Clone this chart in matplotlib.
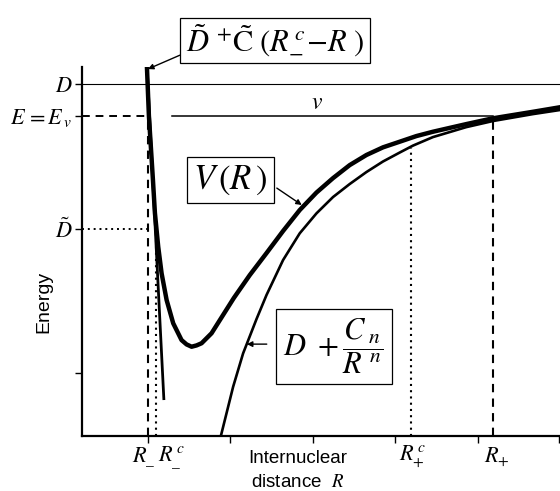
import matplotlib.pyplot as plt

plt.rcParams['mathtext.fontset'] = 'stix'
plt.rcParams['font.family'] = ['Liberation Sans', 'DejaVu Sans']

# potential curve V(R) (arbitrary units)
v_r = [0.788, 0.812, 0.861, 0.885, 0.925, 0.966, 1.027, 1.107, 1.208, 1.269,
       1.330, 1.390, 1.451, 1.572, 1.697, 1.842, 2.036, 2.239, 2.440, 2.642,
       2.845, 3.046, 3.248, 3.451, 3.652, 3.855, 4.057, 4.258, 4.663, 4.985,
       5.470, 5.794]
v_e = [3.118, 2.779, 2.336, 2.107, 1.874, 1.690, 1.505, 1.344, 1.228, 1.198,
       1.182, 1.191, 1.206, 1.275, 1.388, 1.519, 1.678, 1.830, 1.983, 2.128,
       2.249, 2.349, 2.439, 2.509, 2.562, 2.601, 2.640, 2.670, 2.723, 2.763,
       2.808, 2.839]

# long range form D + Cn/R^n
lr_r = [1.685, 1.834, 1.955, 2.118, 2.239, 2.440, 2.642, 2.845, 3.046, 3.248,
        3.451, 3.652, 3.855, 4.016, 4.258, 4.663, 4.985, 5.470, 5.794]
lr_e = [0.564, 0.905, 1.136, 1.374, 1.540, 1.782, 1.967, 2.105, 2.218, 2.308,
        2.391, 2.464, 2.526, 2.574, 2.633, 2.702, 2.744, 2.792, 2.820]

# inner linear wall D~ + C~(R_c - R)
lin_r = [0.79, 0.994]
lin_e = [3.118, 0.813]

D = 3.0
E = 2.779
D_tilde = 2.0
R_minus, R_minus_c = 0.8, 0.9
R_plus_c, R_plus = 3.988, 4.982
R_plus_c_top = 2.56

xticks = [0.8, 1.8, 2.8, 3.8, 4.8, 5.79]
yticks = [1.0, D_tilde, E, D]
ytick_labels = ['', r'$\tilde{D}$', r'$E\, =E_{\,v}$', r'$D$']

fig = plt.figure(figsize=(5.6, 4.91), dpi=100)
ax = fig.add_axes([0.1464, 0.112, 0.8536, 0.7515])
ax.set_xlim(0, 5.8)
ax.set_ylim(0.564, 3.118)

ax.plot(lin_r, lin_e, color='black', lw=2.0, solid_capstyle='butt')
ax.plot(lr_r, lr_e, color='black', lw=1.9, solid_joinstyle='round')
ax.plot(v_r, v_e, color='black', lw=3.2, solid_joinstyle='round')

# reference levels
ax.plot([0, 5.8], [D, D], color='black', lw=0.8)
ax.plot([0, R_minus], [E, E], color='black', lw=1.4, ls=(0, (4, 3)))
ax.plot([1.091, R_plus], [E, E], color='black', lw=1.1)
ax.plot([0, R_minus], [D_tilde, D_tilde], color='black', lw=1.4, ls=(0, (1, 2)))

# turning points
ax.plot([R_minus, R_minus], [0.564, E], color='black', lw=1.5, ls=(0, (4, 3)))
ax.plot([R_minus_c, R_minus_c], [0.564, D_tilde], color='black', lw=1.5, ls=(0, (1, 2)))
ax.plot([R_plus_c, R_plus_c], [0.564, R_plus_c_top], color='black', lw=1.5, ls=(0, (1, 2)))
ax.plot([R_plus, R_plus], [0.564, E], color='black', lw=1.5, ls=(0, (4, 3)))

ax.text(2.848, 2.87, r'$v$', fontsize=17, ha='center', va='center')

# boxed formulas with arrows
box = dict(boxstyle='square,pad=0.18', fc='white', ec='black', lw=0.9)
ax.text(2.34, 3.304, r'$\tilde{D}\ {}^{+}\tilde{\mathrm{C}}\ (R^{\,c}_{-}\!-\!R\ )$',
        fontsize=22, ha='center', va='center', bbox=box, clip_on=False)
ax.text(1.8, 2.336, r'$V\,(R\,)$', fontsize=25, ha='center', va='center', bbox=box)
ax.text(3.055, 1.183, r'$D\ +\dfrac{C_{\ n}}{R^{\ n}}$', fontsize=22,
        ha='center', va='center', bbox=dict(boxstyle='square,pad=0.25', fc='white',
                                            ec='black', lw=0.9))

arrow = dict(arrowstyle='-|>', color='black', lw=1.0, mutation_scale=8,
             shrinkA=0, shrinkB=0)
ax.annotate('', xy=(0.8, 3.104), xytext=(1.188, 3.2), arrowprops=arrow,
            annotation_clip=False)
ax.annotate('', xy=(2.667, 2.163), xytext=(2.364, 2.28), arrowprops=arrow)
ax.annotate('', xy=(2.0, 1.2), xytext=(2.242, 1.2), arrowprops=arrow)

# axes styling
for side in ['top', 'right']:
    ax.spines[side].set_visible(False)
for side in ['left', 'bottom']:
    ax.spines[side].set_linewidth(1.6)
ax.set_xticks(xticks)
ax.set_xticklabels([])
ax.set_yticks(yticks)
ax.set_yticklabels(ytick_labels, fontsize=16)
ax.tick_params(direction='out', length=5, width=1.0, pad=2)

ax.set_ylabel('Energy', fontsize=14)
ax.yaxis.set_label_coords(-0.061, 0.363)

lab_y = 0.42
ax.text(0.745, lab_y, r'$R_{\_}$', fontsize=16, ha='center', va='center', clip_on=False)
ax.text(1.08, lab_y, r'$R^{\,c}_{\_}$', fontsize=16, ha='center', va='center', clip_on=False)
ax.text(4.01, lab_y, r'$R^{\,c}_{+}$', fontsize=16, ha='center', va='center', clip_on=False)
ax.text(5.03, lab_y, r'$R_{+}$', fontsize=16, ha='center', va='center', clip_on=False)
ax.text(2.62, 0.41, 'Internuclear', fontsize=13.5, ha='center', va='center', clip_on=False)
ax.text(2.62, 0.24, r'distance  $R$', fontsize=13.5, ha='center', va='center', clip_on=False)

fig.savefig('out.png', dpi=100)
